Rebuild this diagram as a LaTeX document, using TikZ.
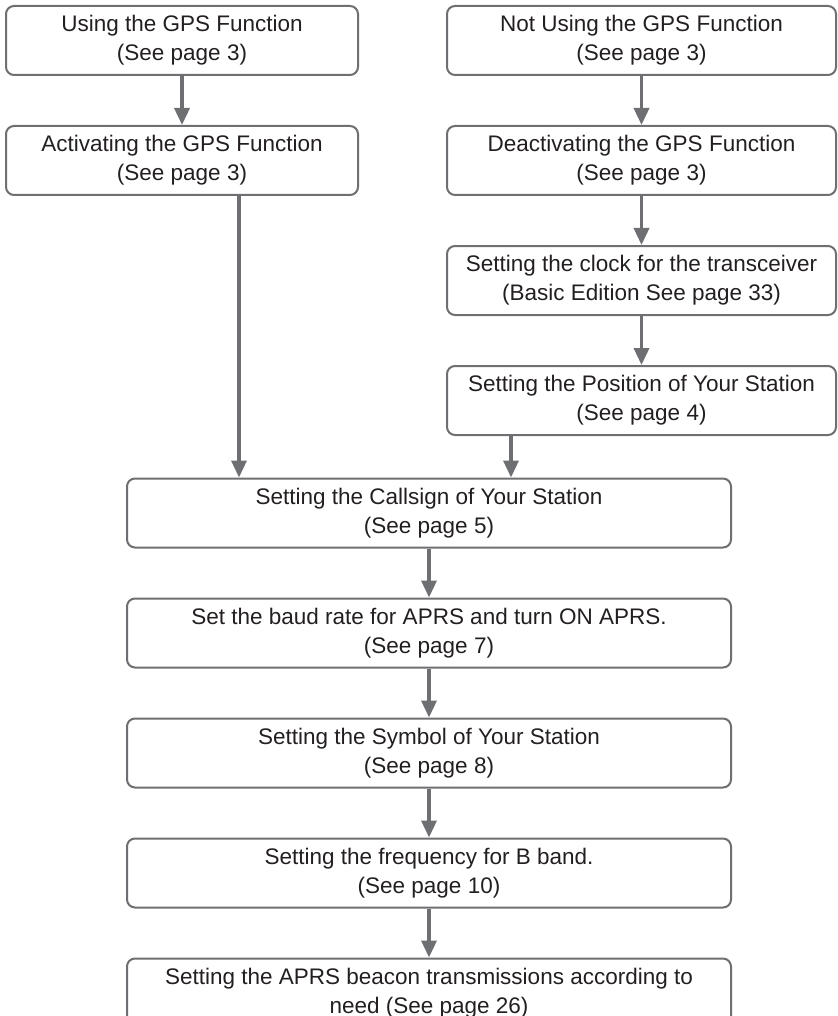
\documentclass[tikz,border=0pt]{standalone}
\usepackage{fontspec}
\setmainfont{Liberation Sans}
\usetikzlibrary{arrows.meta, positioning}
\definecolor{framegray}{RGB}{110,111,114}
\definecolor{inkgray}{RGB}{35,31,32}

\begin{document}
\begin{tikzpicture}[x=1pt, y=-1pt, node distance=49pt,
    stage/.style={draw=framegray, line width=2pt, rounded corners=8pt, minimum height=69pt,
      align=center, text=inkgray, inner sep=0pt, font=\fontsize{22.5}{29}\selectfont},
    leftbox/.style={stage, minimum width=352pt},
    rightbox/.style={stage, minimum width=389pt},
    midbox/.style={stage, minimum width=604pt},
    flow/.style={draw=framegray, line width=3.5pt, -{Triangle[length=17pt, width=15pt]}}]
  \clip (0,0) rectangle (837,1016);

  % Using GPS
  \node[leftbox] (using) at (182,40.5) {Using the GPS Function\\(See page 3)};
  \node[leftbox, below=of using] (activate) {Activating the GPS Function\\(See page 3)};
  \draw[flow] (using) -- (activate);

  % Not using GPS
  \node[rightbox] (notusing) at (641.5,40.5) {Not Using the GPS Function\\(See page 3)};
  \node[rightbox, below=of notusing] (deactivate) {Deactivating the GPS Function\\(See page 3)};
  \node[rightbox, below=of deactivate] (clock) {Setting the clock for the transceiver\\(Basic Edition See page 33)};
  \node[rightbox, below=of clock] (position) {Setting the Position of Your Station\\(See page 4)};
  \draw[flow] (notusing) -- (deactivate);
  \draw[flow] (deactivate) -- (clock);
  \draw[flow] (clock) -- (position);

  % Common steps
  \node[midbox] (callsign) at (429,513) {Setting the Callsign of Your Station\\(See page 5)};
  \node[midbox, below=of callsign] (baud) {Set the baud rate for APRS and turn ON APRS.\\(See page 7)};
  \node[midbox, below=of baud] (symbol) {Setting the Symbol of Your Station\\(See page 8)};
  \node[midbox, below=of symbol] (freq) {Setting the frequency for B band.\\(See page 10)};
  \node[midbox, below=of freq] (beacon) {Setting the APRS beacon transmissions according to\\need (See page 26)};

  \draw[flow] ([xshift=57pt]activate.south) -- ([xshift=57pt]activate.south |- callsign.north);
  \draw[flow] ([xshift=65pt]position.south west) -- ([xshift=65pt]position.south west |- callsign.north);
  \draw[flow] (callsign) -- (baud);
  \draw[flow] (baud) -- (symbol);
  \draw[flow] (symbol) -- (freq);
  \draw[flow] (freq) -- (beacon);
\end{tikzpicture}
\end{document}
